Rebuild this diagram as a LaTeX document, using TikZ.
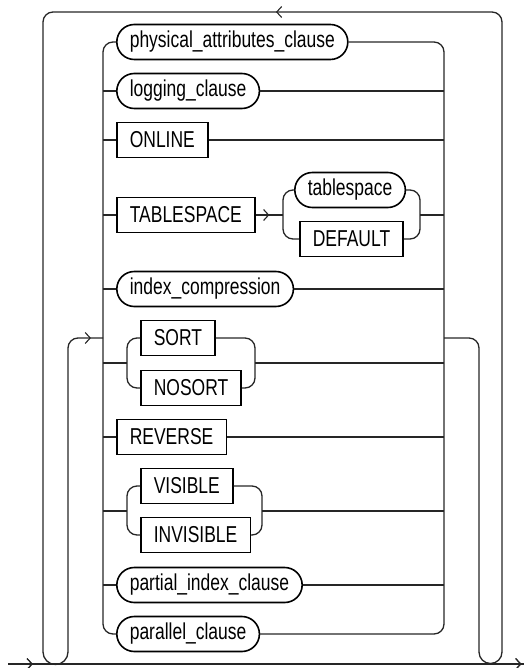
\documentclass[tikz,border=0pt]{standalone}
\usepackage{fontspec}
\setmainfont{Liberation Sans}[FakeStretch=0.76]
\usetikzlibrary{arrows.meta,decorations.markings}
\tikzset{
  base/.style={minimum height=35pt, inner xsep=13pt, inner ysep=0pt, line width=1.6pt, draw=black, anchor=west, font=\fontsize{23}{27}\selectfont},
  kw/.style={base, rectangle},
  ref/.style={base, rectangle, rounded corners=17.5pt},
  conn/.style={line width=1.3pt, draw=black!85},
  rc/.style={conn, rounded corners=10pt},
  chev/.style={postaction={decorate}, decoration={markings, mark=at position #1 with {\arrow{Straight Barb[length=5pt,width=11pt,line width=1.1pt]}}}}
}
\begin{document}
\begin{tikzpicture}[x=1pt,y=-1pt]
\useasboundingbox (0,0) rectangle (524,668);
% nodes
\node[ref] (pac) at (116,42) {physical\_attributes\_clause};
\node[ref] (lc) at (116,91) {logging\_clause};
\node[kw] (onl) at (116,140) {ONLINE};
\node[kw] (ts) at (116,215) {TABLESPACE};
\node[ref] (tsn) at (294,190) {tablespace};
\node[kw] (def) at (299,239) {DEFAULT};
\node[ref] (ic) at (116,289) {index\_compression};
\node[kw] (sort) at (140,338) {SORT};
\node[kw] (nosort) at (140,388) {NOSORT};
\node[kw] (rev) at (116,437) {REVERSE};
\node[kw] (vis) at (140,486) {VISIBLE};
\node[kw] (invis) at (140,535) {INVISIBLE};
\node[ref] (pic) at (116,585) {partial\_index\_clause};
\node[ref] (pc) at (116,634) {parallel\_clause};
% junction coordinates
\coordinate (L) at (103,0);
\coordinate (R) at (444,0);
\coordinate (tsL) at (283,0);
\coordinate (tsR) at (420,0);
\coordinate (sL) at (127,0);
\coordinate (sR) at (255,0);
\coordinate (vR) at (262,0);
\coordinate (loopY) at (0,338);
\coordinate (sortY) at (0,363);
\coordinate (visY) at (0,511);
\coordinate (inL) at (68,0);
\coordinate (outL) at (43,0);
\coordinate (inR) at (479,0);
\coordinate (outR) at (502,0);
\coordinate (topY) at (0,12);
\coordinate (botY) at (0,652);
\coordinate (start) at (8,664);
\coordinate (end) at (524,664);
% main choice verticals
\draw[rc] (pac.west) -- (L |- pac.west) -- (L |- pc.west) -- (pc.west);
\draw[rc] (pac.east) -- (R |- pac.east) -- (R |- pc.east) -- (pc.east);
% simple rows
\foreach \n in {lc,onl,ic,rev,pic}{
  \draw[conn] (L |- \n.west) -- (\n.west);
  \draw[conn] (\n.east) -- (R |- \n.east);
}
% TABLESPACE row
\draw[conn] (L |- ts.west) -- (ts.west);
\draw[conn, chev=0.5] (ts.east) -- (tsL |- ts.east);
\draw[rc] (tsn.west) -- (tsL |- tsn.west) -- (tsL |- def.west) -- (def.west);
\draw[rc] (tsn.east) -- (tsR |- tsn.east) -- (tsR |- def.east) -- (def.east);
\draw[conn] (tsR |- ts.east) -- (R |- ts.east);
% SORT / NOSORT
\draw[conn] (L |- sortY) -- (sL |- sortY);
\draw[rc] (sort.west) -- (sL |- sort.west) -- (sL |- nosort.west) -- (nosort.west);
\draw[rc] (sort.east) -- (sR |- sort.east) -- (sR |- nosort.east) -- (nosort.east);
\draw[conn] (sR |- sortY) -- (R |- sortY);
% VISIBLE / INVISIBLE
\draw[conn] (L |- visY) -- (sL |- visY);
\draw[rc] (vis.west) -- (sL |- vis.west) -- (sL |- invis.west) -- (invis.west);
\draw[rc] (vis.east) -- (vR |- vis.east) -- (vR |- invis.east) -- (invis.east);
\draw[conn] (vR |- visY) -- (R |- visY);
% loop
\draw[rc] (R |- loopY) -- (inR |- loopY) -- (inR |- botY);
\draw[conn] (inR |- botY) arc[start angle=180, end angle=360, radius=11.5pt];
\draw[rc, chev=0.498] (outR |- botY) -- (outR |- topY) -- (outL |- topY) -- (outL |- botY);
\draw[conn] (outL |- botY) arc[start angle=180, end angle=360, radius=12.5pt];
\draw[rc, chev=0.965] (inL |- botY) -- (inL |- loopY) -- (L |- loopY);
% main line
\draw[conn, chev=0.048, chev=0.995] (start) -- (end);
\end{tikzpicture}
\end{document}
